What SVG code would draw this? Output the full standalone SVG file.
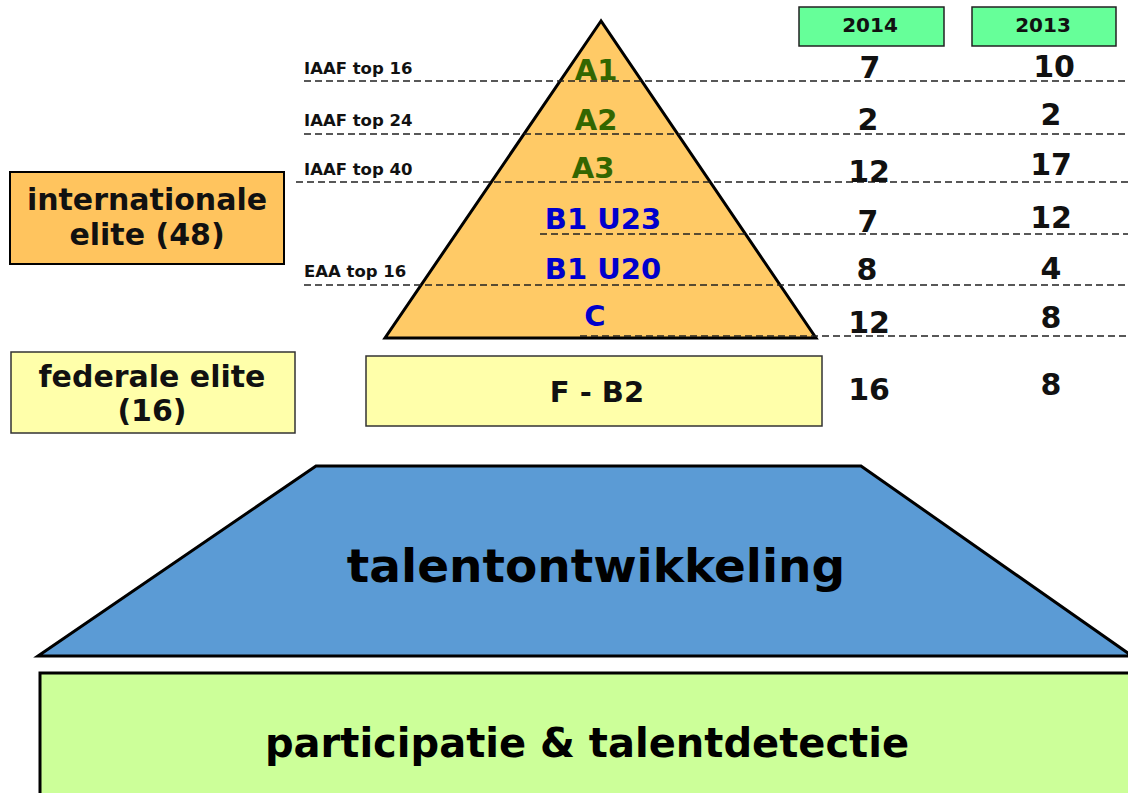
<svg xmlns="http://www.w3.org/2000/svg" width="1128" height="793" viewBox="0 0 1128 793">
<style>
text{font-family:"DejaVu Sans",Verdana,sans-serif;font-weight:bold}
.sm{font-size:16.5px;fill:#111}
.lvlA{font-size:29px;fill:#336600;text-anchor:middle}
.lvlB{font-size:29px;fill:#0000CC;text-anchor:middle}
.num{font-size:30px;fill:#111;text-anchor:middle}
.hdr{font-size:20px;fill:#111;text-anchor:middle}
.big{font-size:30px;fill:#111;text-anchor:middle}
.dash{stroke:#222;stroke-width:1.5;stroke-dasharray:7,4;fill:none}
</style>
<rect width="1128" height="793" fill="#fff"/>
<g id="pyramid">
<polygon points="601,21 385,338 816,338" fill="#FFCA66" stroke="#000" stroke-width="3" stroke-linejoin="miter"/>
</g>
<g id="connectors">
<line class="dash" x1="304" y1="81" x2="1128" y2="81"/>
<line class="dash" x1="304" y1="134" x2="1128" y2="134"/>
<line class="dash" x1="296" y1="182" x2="1128" y2="182"/>
<line class="dash" x1="540" y1="234" x2="1128" y2="234"/>
<line class="dash" x1="304" y1="285" x2="1128" y2="285"/>
<line class="dash" x1="580" y1="336" x2="1128" y2="336"/>
</g>
<g id="levels">
<text class="lvlA" x="596" y="80">A1</text>
<text class="lvlA" x="596" y="130">A2</text>
<text class="lvlA" x="593" y="178">A3</text>
<text class="lvlB" x="603" y="229">B1 U23</text>
<text class="lvlB" x="603" y="279">B1 U20</text>
<text class="lvlB" x="595" y="326">C</text>
</g>
<g id="criteria">
<text class="sm" x="304" y="74">IAAF top 16</text>
<text class="sm" x="304" y="126">IAAF top 24</text>
<text class="sm" x="304" y="175">IAAF top 40</text>
<text class="sm" x="304" y="277">EAA top 16</text>
</g>
<g id="header-2014">
<rect x="799" y="7" width="145" height="39" fill="#66FF99" stroke="#222" stroke-width="1.5"/>
<text class="hdr" x="870" y="32">2014</text>
</g>
<g id="header-2013">
<rect x="972" y="7" width="144" height="39" fill="#66FF99" stroke="#222" stroke-width="1.5"/>
<text class="hdr" x="1043" y="32">2013</text>
</g>
<g id="col-2014">
<text class="num" x="870" y="78">7</text>
<text class="num" x="868" y="130">2</text>
<text class="num" x="869" y="182">12</text>
<text class="num" x="868" y="232">7</text>
<text class="num" x="867" y="280">8</text>
<text class="num" x="869" y="333">12</text>
<text class="num" x="869" y="400">16</text>
</g>
<g id="col-2013">
<text class="num" x="1054" y="77">10</text>
<text class="num" x="1051" y="125">2</text>
<text class="num" x="1051" y="175">17</text>
<text class="num" x="1051" y="228">12</text>
<text class="num" x="1051" y="279">4</text>
<text class="num" x="1051" y="328">8</text>
<text class="num" x="1051" y="395">8</text>
</g>
<g id="internationale-elite">
<rect x="10" y="172" width="274" height="92" fill="#FFC45E" stroke="#000" stroke-width="2"/>
<text class="big" x="147" y="210">internationale</text>
<text class="big" x="147" y="245">elite (48)</text>
</g>
<g id="federale-elite">
<rect x="11" y="352" width="284" height="81" fill="#FFFFAA" stroke="#333" stroke-width="1.5"/>
<text class="big" x="152" y="387">federale elite</text>
<text class="big" x="152" y="421">(16)</text>
</g>
<g id="f-b2">
<rect x="366" y="356" width="456" height="70" fill="#FFFFAA" stroke="#333" stroke-width="1.5"/>
<text class="big" x="597" y="402" style="font-size:29px">F - B2</text>
</g>
<g id="talentontwikkeling">
<polygon points="316,466 861,466 1132,656 38,656" fill="#5B9BD5" stroke="#000" stroke-width="3"/>
<text x="596" y="582" text-anchor="middle" style="font-size:47px;fill:#000">talentontwikkeling</text>
</g>
<g id="participatie">
<rect x="40" y="673" width="1100" height="130" fill="#CCFF99" stroke="#000" stroke-width="3"/>
<text x="587" y="757" text-anchor="middle" style="font-size:40px;fill:#000">participatie &amp; talentdetectie</text>
</g>
</svg>
